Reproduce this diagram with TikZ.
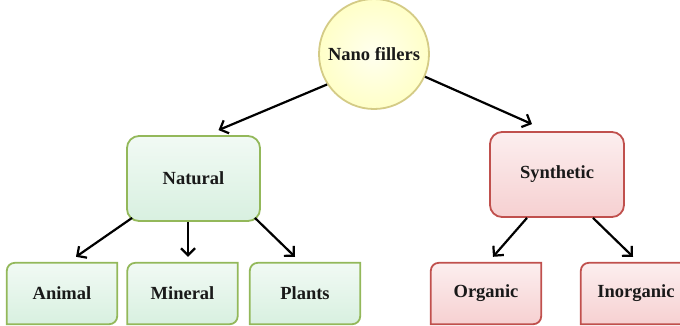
\documentclass[tikz,border=0pt]{standalone}
\usepackage{fontspec}
\setmainfont{Liberation Serif}
\usepackage{tikz}
\usetikzlibrary{arrows.meta, backgrounds}

\definecolor{natline}{HTML}{93B85A}
\definecolor{natfill}{HTML}{D8F0E0}
\definecolor{synline}{HTML}{C0504D}
\definecolor{synfill}{HTML}{F6D0D1}
\definecolor{hubline}{HTML}{D4CB86}
\definecolor{hubfill}{HTML}{FFFFC8}

\begin{document}
\begin{tikzpicture}[
  x=1pt, y=-1pt,
  font=\fontsize{18.5}{22}\selectfont\bfseries,
  hub/.style={circle, draw=hubline, line width=1.8pt, inner color=hubfill!30!white, outer color=hubfill, minimum size=110pt, text=black!90},
  natbox/.style={draw=natline, rounded corners=12pt, line width=1.8pt, top color=natfill!35!white, bottom color=natfill, minimum width=133pt, minimum height=85pt, text=black!90},
  synbox/.style={draw=synline, rounded corners=12pt, line width=1.8pt, top color=synfill!35!white, bottom color=synfill, minimum width=134pt, minimum height=85pt, text=black!90},
  leaf/.style={minimum width=110pt, minimum height=61pt, text=black!90},
  natskin/.style={draw=natline, line width=1.8pt, top color=natfill!35!white, bottom color=natfill},
  synskin/.style={draw=synline, line width=1.8pt, top color=synfill!35!white, bottom color=synfill},
  arr/.style={-{Straight Barb[length=7pt, width=14pt, line width=2.2pt]}, line width=2.2pt}
]
\useasboundingbox (0,0) rectangle (680,325);

\node[hub] (nano) at (374,54) {Nano fillers};
\node[natbox] (natural) at (193.5,178.5) {Natural};
\node[synbox] (synthetic) at (557,174.5) {Synthetic};
\node[leaf] (animal) at (62,293.5) {Animal};
\node[leaf] (mineral) at (182.5,293.5) {Mineral};
\node[leaf] (plants) at (305,293.5) {Plants};
\node[leaf] (organic) at (486,293.5) {Organic};
\node[leaf] (inorganic) at (636,293.5) {Inorganic};

% leaf boxes: rounded on two opposite corners
\begin{scope}[on background layer]
\foreach \n/\s in {animal/natskin, mineral/natskin, plants/natskin, organic/synskin, inorganic/synskin}
  \draw[\s] ([yshift=-8pt]\n.north west) arc[start angle=180, end angle=90, radius=8pt]
    -- (\n.north east) -- ([yshift=8pt]\n.south east) arc[start angle=0, end angle=-90, radius=8pt]
    -- (\n.south west) -- cycle;
\end{scope}

\draw[arr] (nano.213) -- ([xshift=25pt, yshift=5pt]natural.north);
\draw[arr] (nano.-24) -- ([xshift=-25pt, yshift=7pt]synthetic.north);
\draw[arr] ([xshift=6pt, yshift=4pt]natural.south west) -- ([xshift=14pt, yshift=6pt]animal.north);
\draw[arr] ([xshift=-5.5pt]natural.south) -- ([xshift=5.5pt, yshift=6pt]mineral.north);
\draw[arr] ([xshift=-6pt, yshift=4pt]natural.south east) -- ([xshift=-10pt, yshift=6pt]plants.north);
\draw[arr] ([xshift=-30pt]synthetic.south) -- ([xshift=7pt, yshift=6pt]organic.north);
\draw[arr] ([xshift=36pt]synthetic.south) -- ([xshift=-3pt, yshift=6pt]inorganic.north);
\end{tikzpicture}
\end{document}
